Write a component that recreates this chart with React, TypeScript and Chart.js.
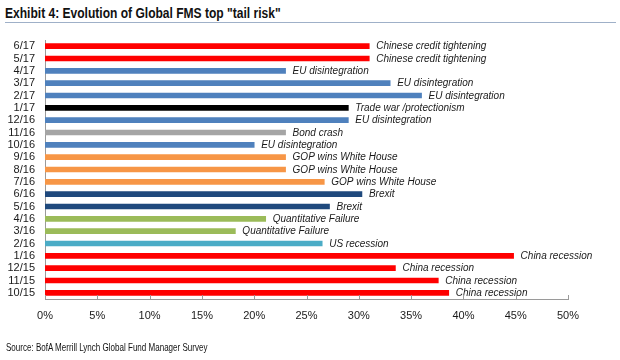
import React, { useEffect, useRef } from "react";
import { Chart, registerables } from "chart.js";

Chart.register(...registerables);

const categories = ["6/17","5/17","4/17","3/17","2/17","1/17","12/16","11/16","10/16","9/16","8/16","7/16","6/16","5/16","4/16","3/16","2/16","1/16","12/15","11/15","10/15"];
const values = [31, 31, 23, 33, 36, 29, 29, 23, 20, 23, 23, 26.7, 30.3, 27.2, 21.1, 18.2, 26.5, 44.8, 33.5, 37.6, 38.6];
const riskLabels = ["Chinese credit tightening","Chinese credit tightening","EU disintegration","EU disintegration","EU disintegration","Trade war /protectionism","EU disintegration","Bond crash","EU disintegration","GOP wins White House","GOP wins White House","GOP wins White House","Brexit","Brexit","Quantitative Failure","Quantitative Failure","US recession","China recession","China recession","China recession","China recession"];
const barColors = ["#FF0000","#FF0000","#4F81BD","#4F81BD","#4F81BD","#000000","#4F81BD","#A5A5A5","#4F81BD","#F79646","#F79646","#F79646","#1F497D","#1F497D","#9BBB59","#9BBB59","#4BACC6","#FF0000","#FF0000","#FF0000","#FF0000"];
const xTicks = [0, 5, 10, 15, 20, 25, 30, 35, 40, 45, 50];

const labelPlugin = {
  id: "barLabels",
  afterDatasetsDraw(chart: any) {
    const ctx = chart.ctx;
    const meta = chart.getDatasetMeta(0);
    ctx.save();
    ctx.font = "italic 10px 'Liberation Sans', Arial, sans-serif";
    ctx.fillStyle = "#1a1a1a";
    ctx.textBaseline = "middle";
    ctx.textAlign = "left";
    meta.data.forEach((el: any, i: number) => {
      ctx.fillText(riskLabels[i], el.x + 7, el.y + 0.5);
    });
    // inward tick marks on x axis
    const xs = chart.scales.x;
    const bottom = chart.chartArea.bottom;
    ctx.strokeStyle = "#9a9a9a";
    ctx.lineWidth = 1;
    xTicks.forEach((v) => {
      const px = Math.round(xs.getPixelForValue(v)) + 0.5;
      ctx.beginPath();
      ctx.moveTo(px, bottom);
      ctx.lineTo(px, bottom - 4);
      ctx.stroke();
    });
    ctx.restore();
  },
};

export default function App() {
  const ref = useRef<HTMLCanvasElement>(null);
  useEffect(() => {
    const chart = new Chart(ref.current as HTMLCanvasElement, {
      type: "bar",
      data: {
        labels: categories,
        datasets: [
          {
            data: values,
            backgroundColor: barColors,
            borderWidth: 0,
            barThickness: 5,
          },
        ],
      },
      options: {
        indexAxis: "y",
        animation: false,
        responsive: false,
        maintainAspectRatio: false,
        layout: { padding: { left: 0, right: 52, top: 40, bottom: 31 } },
        plugins: { legend: { display: false }, tooltip: { enabled: false } },
        scales: {
          x: {
            min: 0,
            max: 50,
            afterBuildTicks: (scale: any) => {
              scale.ticks = xTicks.map((v) => ({ value: v }));
            },
            afterFit: (scale: any) => {
              scale.height = 30;
            },
            grid: { display: false, drawTicks: false },
            border: { display: true, color: "#9a9a9a", width: 1 },
            ticks: {
              padding: 10,
              color: "#1a1a1a",
              font: { family: "'Liberation Sans', Arial, sans-serif", size: 11 },
              callback: (v: any) => v + "%",
              maxRotation: 0,
            },
          },
          y: {
            afterFit: (scale: any) => {
              scale.width = 45;
            },
            grid: { display: false, drawTicks: false },
            border: { display: true, color: "#9a9a9a", width: 1 },
            ticks: {
              padding: 10,
              color: "#1a1a1a",
              autoSkip: false,
              font: { family: "'Liberation Sans', Arial, sans-serif", size: 11 },
            },
          },
        },
      },
      plugins: [labelPlugin],
    } as any);
    return () => chart.destroy();
  }, []);

  return (
    <div style={{ position: "absolute", left: 0, top: 0, width: 620, height: 360, background: "#fff", overflow: "hidden" }}>
      <div
        style={{
          position: "absolute",
          left: 5,
          top: 4,
          fontFamily: "'Liberation Sans', Arial, sans-serif",
          fontWeight: "bold",
          fontSize: 14,
          color: "#111",
          whiteSpace: "nowrap",
          lineHeight: "18px",
          transform: "scaleX(0.86)",
          transformOrigin: "left top",
        }}
      >
        Exhibit 4: Evolution of Global FMS top "tail risk"
      </div>
      <div style={{ position: "absolute", left: 5, top: 22, width: 611, height: 1, background: "#9fb0c8" }} />
      <canvas ref={ref} width={620} height={360} style={{ position: "absolute", left: 0, top: 0 }} />
      <div
        style={{
          position: "absolute",
          left: 6,
          top: 341,
          fontFamily: "'Liberation Sans', Arial, sans-serif",
          fontSize: 11,
          color: "#111",
          whiteSpace: "nowrap",
          lineHeight: "13px",
          transform: "scaleX(0.73)",
          transformOrigin: "left top",
        }}
      >
        Source: BofA Merrill Lynch Global Fund Manager Survey
      </div>
    </div>
  );
}
